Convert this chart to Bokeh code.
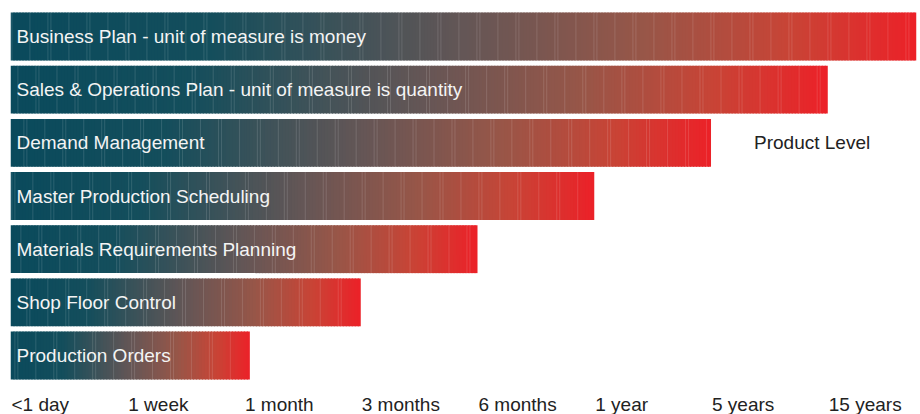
import numpy as np
from bokeh.plotting import figure
from bokeh.models import Range1d, ColumnDataSource
from bokeh.core.properties import value
from bokeh.embed import file_html
from bokeh.resources import INLINE

# ---- data ----
categories = [
    "Business Plan - unit of measure is money",
    "Sales & Operations Plan - unit of measure is quantity",
    "Demand Management",
    "Master Production Scheduling",
    "Materials Requirements Planning",
    "Shop Floor Control",
    "Production Orders",
]
# planning horizon, in tick-index units (0 = <1 day ... 7 = 15 years)
horizon = [7.76, 7.0, 6.0, 5.0, 4.0, 3.0, 2.05]
tick_labels = ["<1 day", "1 week", "1 month", "3 months", "6 months", "1 year", "5 years", "15 years"]
annotation_text = "Product Level"
annotation_category = "Demand Management"

FONT = "Liberation Sans"
FS = "19px"

# gradient colour stops (position along bar, rgb)
stops_t = [0.0, 0.22, 0.5, 0.7, 0.86, 1.0]
stops_c = np.array([
    [10, 74, 92],
    [20, 78, 92],
    [100, 86, 86],
    [152, 86, 72],
    [200, 68, 54],
    [236, 33, 40],
], dtype=float)

def grad_color(t):
    c = np.array([np.interp(t, stops_t, stops_c[:, k]) for k in range(3)])
    return "#%02x%02x%02x" % tuple(int(round(v)) for v in c)

n_cat = len(categories)
ypos = list(range(n_cat))
x_end = max(horizon)

p = figure(
    width=920, height=414,
    x_range=Range1d(0, x_end),
    y_range=Range1d(n_cat + 0.109, -0.508),
    output_backend="svg", toolbar_location=None,
    x_axis_location=None, y_axis_location=None,
    min_border_left=10, min_border_right=4, min_border_top=9, min_border_bottom=0,
)

px_per_unit = 906 / x_end
seg_w = 3.0 / px_per_unit
stripe_w = 1.0 / px_per_unit

lefts, rights, ys, colors = [], [], [], []
s_left, s_right, s_y = [], [], []
for yi, (cat, h) in enumerate(zip(categories, horizon)):
    n = max(1, int(round(h / seg_w)))
    w = h / n
    for i in range(n):
        t = (i + 0.5) / n
        lefts.append(i * w)
        rights.append(min(h, (i + 1.35) * w))
        ys.append(yi)
        colors.append(grad_color(t))
        if ((i * 37 + yi * 5) % 13) < 3 and i < n - 1:
            s_left.append(i * w + w * 0.3)
            s_right.append(i * w + w * 0.3 + stripe_w)
            s_y.append(yi)

src = ColumnDataSource(dict(left=lefts, right=rights, y=ys, color=colors))
p.hbar(y="y", left="left", right="right", height=0.9, source=src,
       fill_color="color", line_color=None)
p.hbar(y=s_y, left=s_left, right=s_right, height=0.9,
       fill_color="white", fill_alpha=0.13, line_color=None)

# bar labels
p.text(x=[0] * n_cat, y=ypos, text=categories,
       x_offset=6, text_baseline="middle", text_align="left",
       text_color="#f4f4f4", text_font=value(FONT), text_font_size=FS)

# annotation
ai = categories.index(annotation_category)
p.text(x=[horizon[ai]], y=[ai], text=[annotation_text],
       x_offset=43, text_baseline="middle", text_align="left",
       text_color="#222222", text_font=value(FONT), text_font_size=FS)

# time-horizon tick labels (left-aligned on their tick positions)
label_row = n_cat - 0.5 + 0.23
p.text(x=list(range(len(tick_labels))), y=[label_row] * len(tick_labels), text=tick_labels,
       x_offset=1, text_baseline="top", text_align="left",
       text_color="#222222", text_font=value(FONT), text_font_size=FS)

p.xgrid.visible = False
p.ygrid.visible = False
p.outline_line_color = None

open("out.html", "w").write(file_html(p, INLINE))
